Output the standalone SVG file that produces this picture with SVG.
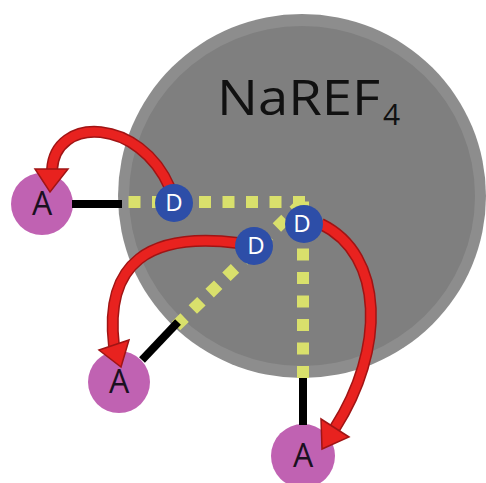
<svg xmlns="http://www.w3.org/2000/svg" width="486" height="483" viewBox="0 0 486 483">
<defs>
<style>
.dots{fill:none;stroke:#d9e06c;stroke-width:12;stroke-dasharray:12 11.5}
.bond{stroke:#000;stroke-width:8;fill:none}
.acc{fill:#c062b2}
.don{fill:#2d4ea8}
.atxt{font-family:"Open Sans","Liberation Sans",sans-serif;font-size:32px;fill:#1a1020;text-anchor:middle}
.dtxt{font-family:"Open Sans","Liberation Sans",sans-serif;font-size:24px;fill:#fff;text-anchor:middle}
.arrO{fill:none;stroke:#a01414;stroke-width:12}
.arrI{fill:none;stroke:#e8221f;stroke-width:9}
.head{fill:#e8221f;stroke:#a01414;stroke-width:1.5;stroke-linejoin:miter}
</style>
</defs>
<g id="particle">
<ellipse cx="302" cy="196" rx="184" ry="182" fill="#8d8d8d"/>
<ellipse cx="302" cy="196" rx="173" ry="170" fill="#7f7f7f"/>
<text x="217" y="115" font-family="'Open Sans','Liberation Sans',sans-serif" font-size="50" fill="#111" textLength="163" lengthAdjust="spacingAndGlyphs">NaREF</text>
<text x="383" y="125" font-family="'Open Sans','Liberation Sans',sans-serif" font-size="30" fill="#111">4</text>
</g>
<g id="A1"><circle class="acc" cx="42" cy="204" r="31"/><text class="atxt" x="42" y="215">A</text></g>
<g id="A2"><circle class="acc" cx="119" cy="382" r="31"/><text class="atxt" x="119" y="393">A</text></g>
<g id="A3"><circle class="acc" cx="303" cy="456" r="32"/><text class="atxt" x="303" y="467">A</text></g>
<g id="connectors">
<path class="dots" d="M305 202 H122"/>
<path class="dots" d="M303 378 V198"/>
<path class="dots" d="M176 326 L304 201"/>
<path class="bond" d="M72 204 H122"/>
<path class="bond" d="M142 360 L178 322"/>
<path class="bond" d="M303 378 V425"/>
<path class="arrO" d="M170 188 C140 118, 55 115, 52 170"/>
<path class="arrI" d="M170 188 C140 118, 55 115, 52 170"/>
<polygon class="head" points="35,169 68,169 50,192"/>
<path class="arrO" d="M238 243 C150 232, 104 262, 114 346"/>
<path class="arrI" d="M238 243 C150 232, 104 262, 114 346"/>
<polygon class="head" points="99,350 129,340 121,367"/>
<path class="arrO" d="M321 224 C385 255, 385 350, 335 428"/>
<path class="arrI" d="M321 224 C385 255, 385 350, 335 428"/>
<polygon class="head" points="321,419 349,437 322,449"/>
</g>
<g id="D1"><circle class="don" cx="174" cy="203" r="19"/><text class="dtxt" x="174" y="211">D</text></g>
<g id="D2"><circle class="don" cx="254" cy="246" r="19"/><text class="dtxt" x="256" y="254">D</text></g>
<g id="D3"><circle class="don" cx="304" cy="224" r="19"/><text class="dtxt" x="302" y="232">D</text></g>
</svg>
